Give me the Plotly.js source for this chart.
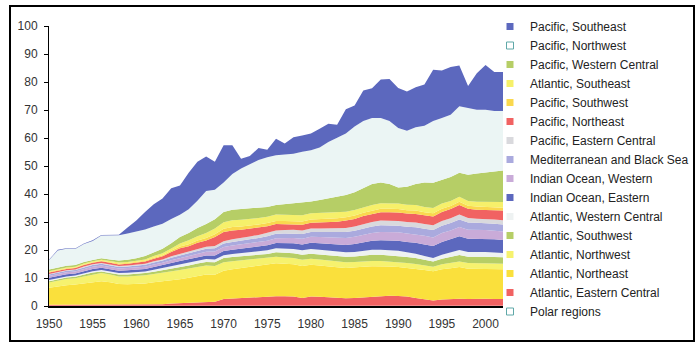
<!DOCTYPE html>
<html>
<head>
<meta charset="utf-8">
<script src="https://cdn.plot.ly/plotly-3.0.1.min.js"></script>
<style>
  html, body { margin: 0; padding: 0; background: #fff; }
  #wrap { position: relative; width: 700px; height: 357px; }
  #chart { position: absolute; left: 0; top: 0; width: 700px; height: 357px; }
  #frame { position: absolute; left: 9px; top: 5px; width: 682px; height: 333px; border: 2px solid #000; pointer-events: none; }
</style>
</head>
<body>
<div id="wrap"><div id="chart"></div><div id="frame"></div></div>
<script>
// Years 1950 - 2002
const years = [];
for (let y = 1950; y <= 2002; y++) years.push(y);

// Series (stack order bottom -> top)
const polarRegions = [0.05,0.05,0.05,0.05,0.05,0.05,0.05,0.05,0.05,0.05, 0.05,0.05,0.05,0.05,0.05,0.05,0.05,0.05,0.05,0.05, 0.1,0.1,0.1,0.1,0.1,0.1,0.1,0.1,0.1,0.1, 0.1,0.1,0.1,0.1,0.1,0.1,0.1,0.1,0.1,0.1, 0.1,0.1,0.1,0.1,0.1,0.1,0.1,0.1,0.1,0.1, 0.1,0.1,0.1];
const atlEasternCentral = [0.4,0.4,0.4,0.4,0.4,0.4,0.4,0.4,0.4,0.5, 0.5,0.5,0.6,0.6,0.8,0.9,1.0,1.2,1.4,1.5, 2.4,2.6,2.7,2.9,3.0,3.2,3.4,3.4,3.3,2.8, 3.3,3.2,3.0,2.8,2.7,2.8,3.0,3.3,3.5,3.6, 3.5,3.3,2.8,2.3,1.9,2.2,2.4,2.5,2.4,2.5, 2.5,2.4,2.4];
const atlNortheast = [6.1,6.6,7.0,7.2,7.6,8.1,8.4,8.0,7.4,7.2, 7.3,7.5,7.8,8.1,8.4,8.6,9.0,9.4,9.8,9.6, 10.1,10.4,10.7,11.0,11.3,11.6,11.8,11.6,11.5,11.4, 11.3,11.2,11.0,10.9,10.8,10.8,10.9,10.8,10.6,10.4, 10.3,10.2,10.4,10.5,10.4,10.8,11.0,11.3,10.8,10.6, 10.5,10.6,10.6];
const atlNorthwest = [1.8,2.0,2.2,2.3,2.5,2.8,2.9,2.8,2.7,2.8, 2.8,2.9,3.0,3.1,3.2,3.3,3.3,3.3,3.2,3.1, 3.0,2.9,2.8,2.6,2.4,2.2,2.3,2.2,2.2,2.2, 2.2,2.1,2.1,2.1,2.0,2.0,2.0,1.9,1.9,1.8, 1.8,1.8,1.7,1.6,1.6,1.8,1.9,2.0,2.1,2.2, 2.2,2.1,2.0];
const atlSouthwest = [0.5,0.5,0.5,0.5,0.6,0.6,0.6,0.6,0.7,0.7, 0.8,0.8,0.8,0.9,0.9,1.0,1.1,1.2,1.3,1.4, 1.5,1.5,1.5,1.5,1.5,1.5,1.6,1.7,1.7,1.8, 1.8,1.8,1.9,1.9,2.0,2.0,2.1,2.2,2.2,2.2, 2.2,2.1,2.1,2.0,1.9,2.0,2.1,2.3,2.2,2.3, 2.3,2.3,2.3];
const atlWesternCentral = [0.4,0.4,0.4,0.4,0.5,0.5,0.5,0.5,0.5,0.6, 0.6,0.6,0.7,0.8,0.9,1.0,1.0,1.0,1.0,1.0, 1.0,1.1,1.1,1.2,1.2,1.3,1.4,1.5,1.6,1.6, 1.7,1.7,1.7,1.6,1.6,1.6,1.7,1.8,1.8,1.8, 1.8,1.7,1.6,1.4,1.2,1.4,1.6,1.8,1.7,1.7, 1.7,1.6,1.5];
const indEastern = [0.8,0.8,0.8,0.8,0.8,0.8,0.8,0.8,0.8,0.9, 0.9,0.9,1.0,1.0,1.1,1.2,1.2,1.3,1.3,1.4, 1.5,1.5,1.6,1.6,1.7,1.8,1.9,2.0,2.0,2.1, 2.2,2.3,2.4,2.5,2.6,2.8,3.0,3.2,3.4,3.5, 3.6,3.7,3.9,4.1,4.3,4.6,4.7,4.9,4.7,4.6, 4.6,4.7,4.7];
const indWestern = [0.7,0.7,0.7,0.7,0.8,0.8,0.8,0.8,0.8,0.8, 0.8,0.8,0.9,0.9,1.0,1.0,1.1,1.2,1.3,1.4, 1.5,1.5,1.5,1.5,1.6,1.6,1.7,1.8,1.9,2.0, 2.1,2.2,2.3,2.4,2.5,2.6,2.7,2.8,2.9,3.0, 3.0,3.0,3.0,3.1,3.1,3.2,3.2,3.3,3.2,3.2, 3.2,3.1,3.0];
const mediterranean = [0.5,0.5,0.5,0.5,0.6,0.6,0.6,0.6,0.6,0.6, 0.6,0.7,0.7,0.8,0.9,1.0,1.0,1.1,1.1,1.2, 1.2,1.3,1.3,1.4,1.5,1.6,1.6,1.6,1.6,1.7, 1.7,1.8,1.9,2.0,2.1,2.2,2.2,2.3,2.4,2.4, 2.4,2.4,2.5,2.5,2.6,2.6,2.6,2.7,2.6,2.5, 2.5,2.5,2.5];
const pacEasternCentral = [0.2,0.2,0.2,0.2,0.3,0.3,0.3,0.3,0.3,0.3, 0.3,0.3,0.4,0.4,0.5,0.6,0.6,0.7,0.7,0.8, 0.8,0.9,0.9,1.0,1.1,1.2,1.2,1.2,1.3,1.3, 1.3,1.3,1.4,1.4,1.5,1.5,1.6,1.6,1.7,1.7, 1.7,1.7,1.7,1.7,1.7,1.7,1.7,1.8,1.6,1.5, 1.5,1.5,1.5];
const pacNortheast = [0.5,0.5,0.5,0.5,0.5,0.5,0.6,0.6,0.6,0.6, 0.7,0.8,0.9,1.1,1.5,2.0,2.0,2.1,2.2,3.2, 3.3,3.2,3.0,2.8,2.6,2.4,2.3,2.1,2.0,2.0, 2.0,2.1,2.2,2.4,2.6,2.7,2.8,2.9,3.0,3.0, 3.0,3.0,3.1,3.1,3.2,3.2,3.3,3.4,3.3,3.2, 3.2,3.4,3.5];
const pacSouthwest = [0.2,0.2,0.2,0.2,0.2,0.2,0.2,0.2,0.3,0.3, 0.3,0.3,0.4,0.4,0.5,0.6,0.7,0.8,0.9,1.0, 1.2,1.2,1.2,1.1,1.1,1.1,1.1,1.2,1.2,1.2, 1.2,1.2,1.2,1.2,1.2,1.2,1.2,1.2,1.2,1.2, 1.2,1.2,1.2,1.1,1.1,1.1,1.1,1.1,1.1,1.1, 1.1,1.0,1.0];
const atlSoutheast = [0.3,0.3,0.3,0.3,0.3,0.3,0.4,0.4,0.4,0.4, 0.5,0.5,0.6,0.7,0.8,1.1,1.4,1.6,1.8,2.0, 2.3,2.4,2.4,2.3,2.3,2.3,2.3,2.2,2.2,2.2, 2.2,2.2,2.1,2.1,2.0,2.0,2.0,2.0,2.0,2.0, 2.0,2.0,2.0,1.9,1.9,1.9,1.8,1.8,1.7,1.7, 1.7,1.9,2.0];
const pacWesternCentral = [0.6,0.6,0.6,0.6,0.6,0.5,0.5,0.6,0.7,0.8, 0.9,1.2,1.4,1.6,1.9,2.3,2.6,2.9,3.2,3.3, 3.7,3.8,3.8,3.9,3.7,3.5,3.4,3.8,4.3,4.7, 4.2,4.7,5.1,5.7,5.9,6.3,6.8,7.5,7.4,6.9, 5.7,6.4,7.5,8.7,9.0,8.5,8.6,8.6,9.4,10.1, 10.5,10.9,11.3];
const pacNorthwest = [3.3,6.1,6.1,5.7,6.4,6.8,8.1,8.5,9.0,9.3, 9.5,9.5,9.1,8.9,8.6,7.9,8.5,9.7,11.8,10.6, 10.5,12.7,14.5,15.7,17.0,17.7,17.7,17.7,17.5,18.0, 18.3,18.7,20.2,21.0,22.0,23.5,24.0,23.5,23.0,22.5, 21.3,20.0,20.2,20.3,22.1,22.0,22.2,23.7,23.7,22.8, 22.5,21.5,21.2];
const pacSoutheast = [0.2,0.2,0.2,0.2,0.2,0.2,0.2,0.2,0.2,2.2, 4.0,6.2,8.0,9.0,11.0,10.5,13.0,14.0,12.3,10.0, 13.3,10.3,3.5,3.0,4.3,2.7,5.9,3.9,5.9,5.8, 6.0,6.7,6.5,4.6,8.7,7.5,10.9,10.7,13.8,15.0, 14.3,14.0,14.3,14.7,18.3,17.0,17.1,14.6,8.0,13.0, 16.0,14.0,14.0];

const xTicks = [1950,1955,1960,1965,1970,1975,1980,1985,1990,1995,2000];
const yTicks = [0,10,20,30,40,50,60,70,80,90,100];

// name, values, fill colour, legend marker line colour
const series = [
  ["Polar regions", polarRegions, "#EAF6F6", "#5FA8A8"],
  ["Atlantic, Eastern Central", atlEasternCentral, "#F16262", null],
  ["Atlantic, Northeast", atlNortheast, "#FAE03C", null],
  ["Atlantic, Northwest", atlNorthwest, "#F6F26E", null],
  ["Atlantic, Southwest", atlSouthwest, "#B6CE66", null],
  ["Atlantic, Western Central", atlWesternCentral, "#EEF2F2", null],
  ["Indian Ocean, Eastern", indEastern, "#5C68BE", null],
  ["Indian Ocean, Western", indWestern, "#C9ABD8", null],
  ["Mediterranean and Black Sea", mediterranean, "#AAAADE", null],
  ["Pacific, Eastern Central", pacEasternCentral, "#D9D9DD", null],
  ["Pacific, Northeast", pacNortheast, "#F16262", null],
  ["Pacific, Southwest", pacSouthwest, "#FAD84E", null],
  ["Atlantic, Southeast", atlSoutheast, "#F6F06A", null],
  ["Pacific, Western Central", pacWesternCentral, "#B6CE66", null],
  ["Pacific, Northwest", pacNorthwest, "#EBF5F4", "#5FA8A8"],
  ["Pacific, Southeast", pacSoutheast, "#5C68BE", null]
];

const traces = [];
series.forEach(s => {
  traces.push({
    type: "scatter", x: years, y: s[1], name: s[0],
    stackgroup: "one", mode: "lines",
    line: {width: 0, shape: "linear"},
    fillcolor: s[2], showlegend: false, hoverinfo: "skip"
  });
});
// legend entries (top layer first)
series.slice().reverse().forEach(s => {
  traces.push({
    type: "scatter", x: [null], y: [null], name: s[0], mode: "markers",
    marker: {symbol: "square", size: 7, color: s[3] ? "#FFFFFF" : s[2],
             line: {width: s[3] ? 1 : 0, color: s[3] || s[2]}},
    showlegend: true, hoverinfo: "skip"
  });
});

const layout = {
  width: 700, height: 357,
  margin: {l: 49, r: 197, t: 26, b: 51, autoexpand: false},
  paper_bgcolor: "#FFFFFF", plot_bgcolor: "#FFFFFF",
  font: {family: "Liberation Sans, Arial, sans-serif", size: 12, color: "#333333"},
  showlegend: true,
  legend: {
    x: (490 - 49) / 454, xanchor: "left", xref: "paper", y: 1.05, yanchor: "top",
    traceorder: "normal", font: {size: 12, color: "#222222"},
    bgcolor: "rgba(0,0,0,0)", itemclick: false, tracegroupgap: 0,
    maxheight: 345
  },
  xaxis: {
    range: [1950, 2002], tickmode: "array", tickvals: xTicks,
    ticktext: xTicks.map(String), ticks: "outside", ticklen: 6,
    tickcolor: "rgba(0,0,0,0)", showgrid: false, zeroline: false,
    showline: true, linecolor: "#000000", linewidth: 2,
    tickfont: {size: 12, color: "#333333"}
  },
  yaxis: {
    range: [0, 100], tickmode: "array", tickvals: yTicks,
    ticks: "outside", ticklen: 4, tickcolor: "#000000", tickwidth: 1,
    ticklabelstandoff: 4,
    showgrid: false, zeroline: false, showline: true,
    linecolor: "#000000", linewidth: 1,
    tickfont: {size: 12, color: "#333333"}
  }
};

Plotly.newPlot("chart", traces, layout, {staticPlot: true, displayModeBar: false});
</script>
</body>
</html>
